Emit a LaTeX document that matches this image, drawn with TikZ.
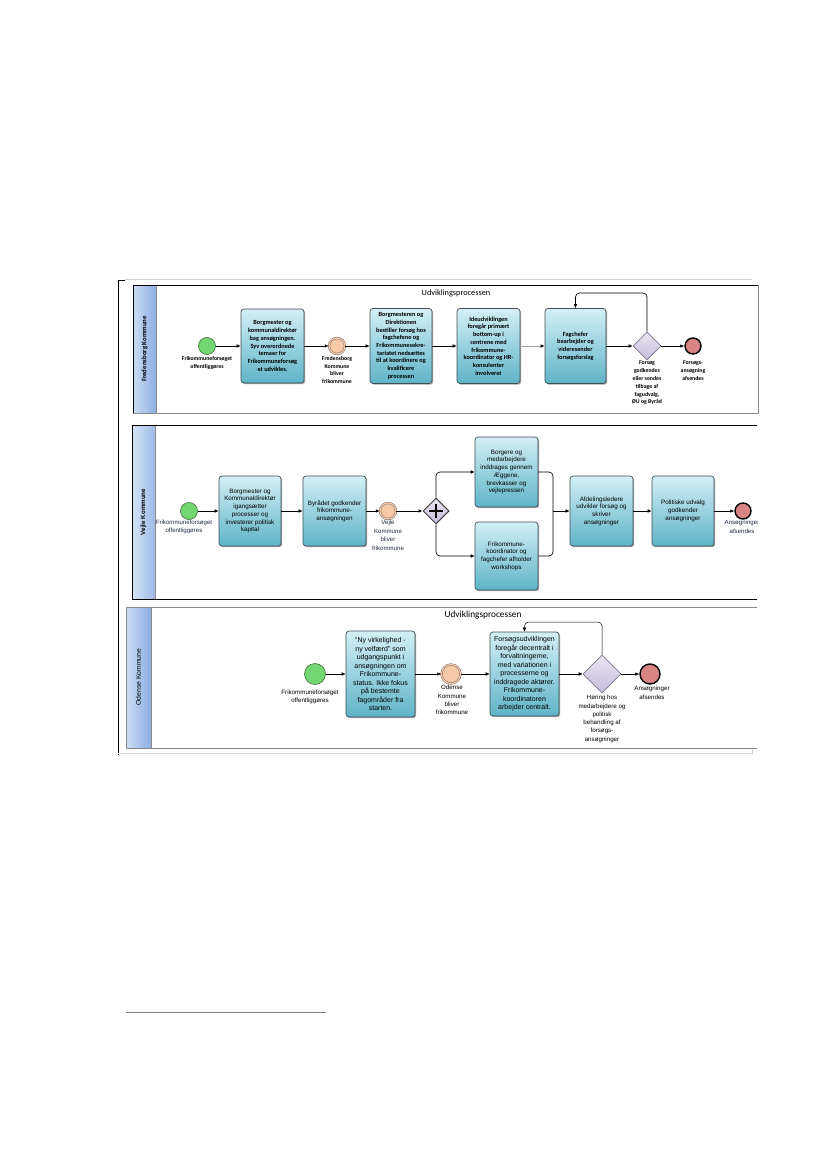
\documentclass[tikz,border=0pt]{standalone}
\usepackage{fontspec}
\setmainfont{Liberation Sans}
\newfontfamily\calfont{Carlito}
\usetikzlibrary{arrows.meta,shapes.geometric,shadows}
\definecolor{taskTop}{HTML}{D3EFF5}
\definecolor{taskBot}{HTML}{5FB4C8}
\definecolor{taskLine}{HTML}{3F4F55}
\definecolor{startFill}{HTML}{72D672}
\definecolor{startLine}{HTML}{4A7A4A}
\definecolor{midFill}{HTML}{F8C9A6}
\definecolor{midLine}{HTML}{7A7070}
\definecolor{endFill}{HTML}{D98484}
\definecolor{gwTop}{HTML}{EAE4F2}
\definecolor{gwBot}{HTML}{C6BCDA}
\definecolor{gwLine}{HTML}{7C7890}
\definecolor{hdrL}{HTML}{CCDDF4}
\definecolor{hdrR}{HTML}{8CAEE2}
\definecolor{frameGray}{HTML}{8A8A8A}
\definecolor{lightGray}{HTML}{D4D4D4}
\definecolor{lblNavy}{HTML}{1F2A44}
\begin{document}
\begin{tikzpicture}[x=1pt,y=-1pt,
  task/.style={draw=taskLine, line width=0.7pt, rounded corners=3pt, top color=taskTop, bottom color=taskBot, align=center, inner sep=1pt,
    drop shadow={shadow xshift=1.2pt, shadow yshift=-1.2pt, opacity=0.35, fill=black}},
  startev/.style={circle, draw=startLine, line width=0.7pt, fill=startFill, minimum size=#1, inner sep=0pt},
  midev/.style={circle, draw=midLine, line width=0.5pt, double=midFill, double distance=1.2pt, fill=midFill, minimum size=#1, inner sep=0pt},
  endev/.style={circle, draw=black, line width=1.4pt, fill=endFill, minimum size=#1, inner sep=0pt},
  gw/.style={diamond, aspect=1, draw=gwLine, line width=0.7pt, top color=gwTop, bottom color=gwBot, minimum width=#1, minimum height=#1, inner sep=0pt},
  flow/.style={line width=0.65pt, -{Latex[length=4pt,width=3.6pt,black]}},
  fA/.style={font=\calfont\bfseries\fontsize{6.3}{7.7}\selectfont},
  fB/.style={font=\fontsize{6.3}{7.7}\selectfont},
  fC/.style={font=\fontsize{7}{8.5}\selectfont},
  lblA/.style={align=center, inner sep=0pt, font=\calfont\bfseries\fontsize{5.8}{7.8}\selectfont},
  lblB/.style={align=center, inner sep=0pt, text=lblNavy, font=\fontsize{6.1}{8.6}\selectfont},
  lblC/.style={align=center, inner sep=0pt, font=\fontsize{6.2}{8.3}\selectfont},
]
\useasboundingbox (0,0) rectangle (827,1169);

% ---------- outer frame ----------
\draw[lightGray, line width=0.8pt] (125,279.5) -- (752,279.5);
\draw[black, line width=0.8pt] (125,280) -- (118,280) -- (118,755);
\draw[lightGray, line width=0.8pt] (118,753.5) -- (752,753.5) -- (752,748);

% ---------- lane 1: Fredensborg ----------
\shade[left color=hdrL, right color=hdrR] (133,285) rectangle (156,413);
\draw[frameGray, line width=0.6pt] (156,285) -- (156,413);
\draw[frameGray, line width=0.8pt] (133,413) -- (758,413) -- (758,285);
\draw[black, line width=0.8pt] (758,285) -- (133,285) -- (133,413);
\node[rotate=90, font=\calfont\bfseries\fontsize{6.8}{8}\selectfont] (h1) at (144.5,349) {Fredensborg Kommune};
\node[font=\calfont\fontsize{8.3}{10}\selectfont] (u1) at (456,293) {Udviklingsprocessen};

\node[startev=17] (s1) at (207,346) {};
\node[task, fA, minimum width=63, minimum height=74] (t1) at (272.5,346) {Borgmester og\\kommunaldirektør\\bag ansøgningen.\\Syv overordnede\\temaer for\\Frikommuneforsøg\\et udvikles.};
\node[midev=16] (i1) at (337,346) {};
\node[task, fA, minimum width=62, minimum height=75] (t2) at (401,346) {Borgmesteren og\\Direktionen\\bestiller forsøg hos\\fagchefene og\\Frikommunesekre-\\tariatet nedsættes\\til at koordinere og\\kvalificere\\processen};
\node[task, fA, minimum width=63, minimum height=75] (t3) at (488.5,346) {Ideudviklingen\\foregår primært\\bottom-up i\\centrene med\\frikommune-\\koordinator og HR-\\konsulenter\\involveret};
\node[task, fA, minimum width=61, minimum height=75] (t4) at (575.5,346) {Fagchefer\\bearbejder og\\videresender\\forsøgsforslag};
\node[gw=28] (g1) at (647,346) {};
\node[endev=16] (e1) at (693,346) {};

\node[lblA, anchor=north] (s1l) at (207,356) {Frikommuneforsøget\\offentliggøres};
\node[lblA, anchor=north] (i1l) at (337,356) {Fredensborg\\Kommune\\bliver\\frikommune};
\node[lblA, anchor=north] (g1l) at (647,361) {Forsøg\\godkendes\\eller sendes\\tilbage af\\fagudvalg,\\ØU og Byråd};
\node[lblA, anchor=north] (e1l) at (693,361) {Forsøgs-\\ansøgning\\afsendes};

\draw[flow] (s1) -- (t1);
\draw[flow] (t1) -- (i1);
\draw[flow] (i1) -- (t2);
\draw[flow] (t2) -- (t3);
\draw[flow, draw=gray!75, line width=0.8pt] (t3) -- (t4);
\draw[flow] (t4) -- (g1);
\draw[flow] (g1) -- (e1);
\coordinate (lp1) at (0,293);
\draw[flow, rounded corners=4pt] (g1.north) -- (g1.north |- lp1) -- (t4.north |- lp1) -- (t4.north);

% ---------- lane 2: Vejle ----------
\shade[left color=hdrL!80!white, right color=hdrR!85!white] (132,425) rectangle (155,599);
\draw[frameGray, line width=0.6pt] (155,425) -- (155,599);
\draw[black, line width=0.9pt] (757,425) -- (132,425) -- (132,599) -- (757,599);
\node[rotate=90, font=\bfseries\fontsize{6.2}{8}\selectfont] (h2) at (143.5,512) {Vejle Kommune};

\node[startev=17] (s2) at (189,511) {};
\node[task, fB, minimum width=62, minimum height=70] (tA) at (250,511) {Borgmester og\\Kommunaldirektør\\igangsætter\\processer og\\investerer politisk\\kapital};
\node[task, fB, minimum width=63, minimum height=70] (tB) at (334.5,511) {Byrådet godkender\\frikommune-\\ansøgningen};
\node[midev=16] (i2) at (388,511) {};
\node[gw=26, line width=1pt, draw=black!75] (pg) at (436,511) {};
\draw[line width=2.4pt] ([xshift=-7pt]pg.center) -- ([xshift=7pt]pg.center);
\draw[line width=2.4pt] ([yshift=-7pt]pg.center) -- ([yshift=7pt]pg.center);
\node[task, fB, minimum width=63, minimum height=70] (tC) at (506.5,472) {Borgere og\\medarbejdere\\inddrages gennem\\Æggene,\\brevkasser og\\vejlepressen};
\node[task, fB, minimum width=63, minimum height=68] (tD) at (506.5,556) {Frikommune-\\koordinator og\\fagchefer afholder\\workshops};
\coordinate (mrg) at (553,511);
\node[task, fB, minimum width=63, minimum height=70] (tE) at (601.5,511) {Afdelingsledere\\udvikler forsøg og\\skriver\\ansøgninger};
\node[task, fB, minimum width=62, minimum height=70] (tF) at (683,511) {Politiske udvalg\\godkender\\ansøgninger};
\node[endev=16] (e2) at (743,511) {};

\node[lblB, anchor=north] (s2l) at (184,519.5) {Frikommuneforsøget\\offentliggøres};
\node[lblB, anchor=north] (i2l) at (388,520) {Vejle\\Kommune\\bliver\\frikommune};
\begin{scope}
\clip (700,515) rectangle (757,540);
\node[lblB, anchor=north] (e2l) at (742,520) {Ansøgninger\\afsendes};
\end{scope}

\draw[flow] (s2) -- (tA);
\draw[flow] (tA) -- (tB);
\draw[flow] (tB) -- (i2);
\draw[flow] (i2) -- (pg);
\draw[flow, rounded corners=4pt] (pg.north) |- (tC.west);
\draw[flow, rounded corners=4pt] (pg.south) |- (tD.west);
\draw[line width=0.65pt, rounded corners=4pt] (tC.east) -| (mrg);
\draw[line width=0.65pt, rounded corners=4pt] (tD.east) -| (mrg);
\draw[flow] (mrg) -- (tE);
\draw[flow] (tE) -- (tF);
\draw[flow] (tF) -- (e2);

% ---------- lane 3: Odense ----------
\shade[left color=hdrL, right color=hdrR] (126,607) rectangle (151,748);
\draw[frameGray, line width=0.6pt] (151,607) -- (151,748);
\draw[frameGray, line width=0.9pt] (757,607) -- (126,607) -- (126,748) -- (757,748);
\node[rotate=90, font=\fontsize{6.8}{8}\selectfont] (h3) at (138.5,677) {Odense Kommune};
\node[font=\calfont\fontsize{9.3}{11}\selectfont] (u3) at (483,615) {Udviklingsprocessen};

\node[startev=21] (s3) at (315,674) {};
\node[task, fC, minimum width=69, minimum height=86] (tG) at (380.5,674) {"Ny virkelighed -\\ny velfærd" som\\udgangspunkt i\\ansøgningen om\\Frikommune-\\status. Ikke fokus\\på bestemte\\fagområder fra\\starten.};
\node[midev=19] (i3) at (451,674) {};
\node[task, fC, minimum width=69, minimum height=84] (tH) at (524.5,674) {Forsøgsudviklingen\\foregår decentralt i\\forvaltningerne,\\med variationen i\\processerne og\\inddragede aktører.\\Frikommune-\\koordinatoren\\arbejder centralt.};
\node[gw=38] (g3) at (602,674) {};
\node[endev=20] (e3) at (650,674) {};

\node[lblC, anchor=north] (s3l) at (310,690) {Frikommuneforsøget\\offentliggøres};
\node[lblC, anchor=north] (i3l) at (452,685) {Odense\\Kommune\\bliver\\frikommune};
\node[lblC, anchor=north] (g3l) at (602,695) {Høring hos\\medarbejdere og\\politisk\\behandling af\\forsøgs-\\ansøgninger};
\node[lblC, anchor=north] (e3l) at (652,686) {Ansøgninger\\afsendes};

\draw[flow, line width=0.5pt] (s3) -- (tG);
\draw[flow, line width=0.5pt] (tG) -- (i3);
\draw[flow, line width=0.5pt] (i3) -- (tH);
\draw[flow, line width=0.5pt] (tH) -- (g3);
\draw[flow, line width=0.5pt] (g3) -- (e3);
\coordinate (lp3) at (0,622);
\draw[flow, line width=0.5pt, rounded corners=4pt] (g3.north) -- (g3.north |- lp3) -- (tH.north |- lp3) -- (tH.north);

% ---------- footnote rule ----------
\draw[gray, line width=0.8pt] (126,1012) -- (326,1012);
\end{tikzpicture}
\end{document}
